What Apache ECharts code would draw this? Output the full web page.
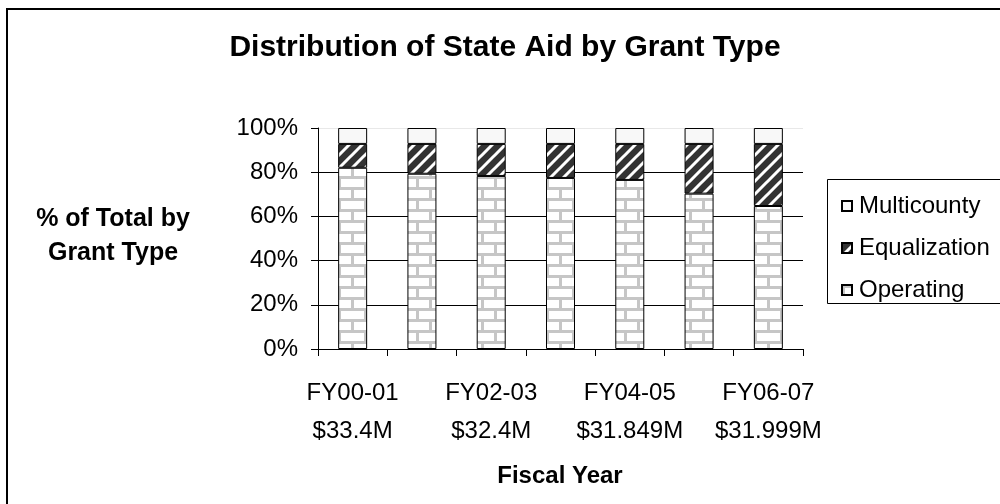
<!DOCTYPE html>
<html>
<head>
<meta charset="utf-8">
<script src="https://cdn.jsdelivr.net/npm/echarts@6/dist/echarts.min.js"></script>
<style>
html,body{margin:0;padding:0;background:#fff;}
#c{width:1000px;height:504px;}
</style>
</head>
<body>
<div id="c"></div>
<script>
// ---- data ----
var categories = ["FY00-01\n$33.4M", "FY01-02", "FY02-03\n$32.4M", "FY03-04", "FY04-05\n$31.849M", "FY05-06", "FY06-07\n$31.999M"];
var operating = [82.0, 79.3, 78.3, 77.4, 76.5, 70.3, 64.7];
var equalization = [10.8, 13.5, 14.5, 15.4, 16.3, 22.5, 28.1];
var multicounty = [7.2, 7.2, 7.2, 7.2, 7.2, 7.2, 7.2];
var yTicks = [0, 20, 40, 60, 80, 100];

// ---- patterns ----
function brickPattern() {
  var c = document.createElement('canvas');
  c.width = 26; c.height = 22;
  var g = c.getContext('2d');
  g.fillStyle = '#ffffff'; g.fillRect(0, 0, 26, 22);
  g.fillStyle = '#c6c6c6';
  g.fillRect(0, 0, 26, 3);
  g.fillRect(0, 11, 26, 3);
  g.fillRect(0, 3, 3, 8);
  g.fillRect(13, 14, 3, 8);
  return c;
}
function stripePattern() {
  var s = 13;
  var c = document.createElement('canvas');
  c.width = s; c.height = s;
  var g = c.getContext('2d');
  g.fillStyle = '#333333'; g.fillRect(0, 0, s, s);
  g.strokeStyle = '#ffffff'; g.lineWidth = 3;
  g.beginPath();
  g.moveTo(-s, s); g.lineTo(s, -s);
  g.moveTo(0, s * 2); g.lineTo(s * 2, 0);
  g.moveTo(-s, 2 * s); g.lineTo(2 * s, -s);
  g.stroke();
  return c;
}

var chart = echarts.init(document.getElementById('c'), null, {renderer: 'canvas'});
var font = 'Liberation Sans, Arial, sans-serif';

chart.setOption({
  backgroundColor: '#ffffff',
  animation: false,
  textStyle: {fontFamily: font},
  title: {
    text: 'Distribution of State Aid by Grant Type',
    left: 500, top: 28, textAlign: 'center',
    textStyle: {fontFamily: font, fontSize: 30, fontWeight: 'bold', color: '#000'}
  },
  legend: {
    orient: 'vertical',
    left: 836, top: 188,
    icon: 'rect',
    itemWidth: 10, itemHeight: 10,
    itemGap: 16,
    data: ['Multicounty', 'Equalization', 'Operating'],
    textStyle: {fontFamily: font, fontSize: 24, color: '#000', lineHeight: 26, padding: [0, 0, 0, 2]}
  },
  grid: {left: 318, right: 197, top: 128, bottom: 155},
  xAxis: {
    type: 'category',
    data: categories,
    axisLine: {lineStyle: {color: '#000', width: 1}},
    axisTick: {show: true, interval: 0, length: 7, lineStyle: {color: '#000'}},
    axisLabel: {interval: 1, margin: 25, fontSize: 24, lineHeight: 38, color: '#000', fontFamily: font},
    splitLine: {show: false}
  },
  yAxis: {
    type: 'value',
    min: 0, max: 100, interval: 20,
    axisLine: {show: true, lineStyle: {color: '#000', width: 1}},
    axisTick: {show: true, length: 7, lineStyle: {color: '#000'}},
    axisLabel: {
      margin: 20, fontSize: 24, color: '#000', fontFamily: font,
      formatter: function (v) { return yTicks.indexOf(v) >= 0 ? v + '%' : ''; }
    },
    splitLine: {show: true, lineStyle: {color: ['#000', '#000', '#000', '#000', '#000', '#e8e8e8'], width: 1}}
  },
  graphic: [
    {type: 'rect', shape: {x: 7, y: 9, width: 1020, height: 530}, style: {fill: 'none', stroke: '#000', lineWidth: 2}, silent: true},
    {type: 'rect', shape: {x: 827.5, y: 179.5, width: 200, height: 124}, style: {fill: 'none', stroke: '#000', lineWidth: 1}, silent: true},
    {type: 'text', x: 113, y: 219, style: {text: '% of Total by', font: 'bold 25px ' + font, fill: '#000', textAlign: 'center', textVerticalAlign: 'middle'}},
    {type: 'text', x: 113, y: 253, style: {text: 'Grant Type', font: 'bold 25px ' + font, fill: '#000', textAlign: 'center', textVerticalAlign: 'middle'}},
    {type: 'text', x: 560, y: 476, style: {text: 'Fiscal Year', font: 'bold 24px ' + font, fill: '#000', textAlign: 'center', textVerticalAlign: 'middle'}}
  ],
  series: [
    {
      name: 'Operating', type: 'bar', stack: 'total', barWidth: 29, data: operating,
      itemStyle: {color: {image: brickPattern(), repeat: 'repeat'}, borderColor: '#000', borderWidth: 1}
    },
    {
      name: 'Equalization', type: 'bar', stack: 'total', barWidth: 29, data: equalization,
      itemStyle: {color: {image: stripePattern(), repeat: 'repeat'}, borderColor: '#000', borderWidth: 1}
    },
    {
      name: 'Multicounty', type: 'bar', stack: 'total', barWidth: 29, data: multicounty,
      itemStyle: {color: '#f8f8f8', borderColor: '#000', borderWidth: 1}
    }
  ]
});
</script>
</body>
</html>
